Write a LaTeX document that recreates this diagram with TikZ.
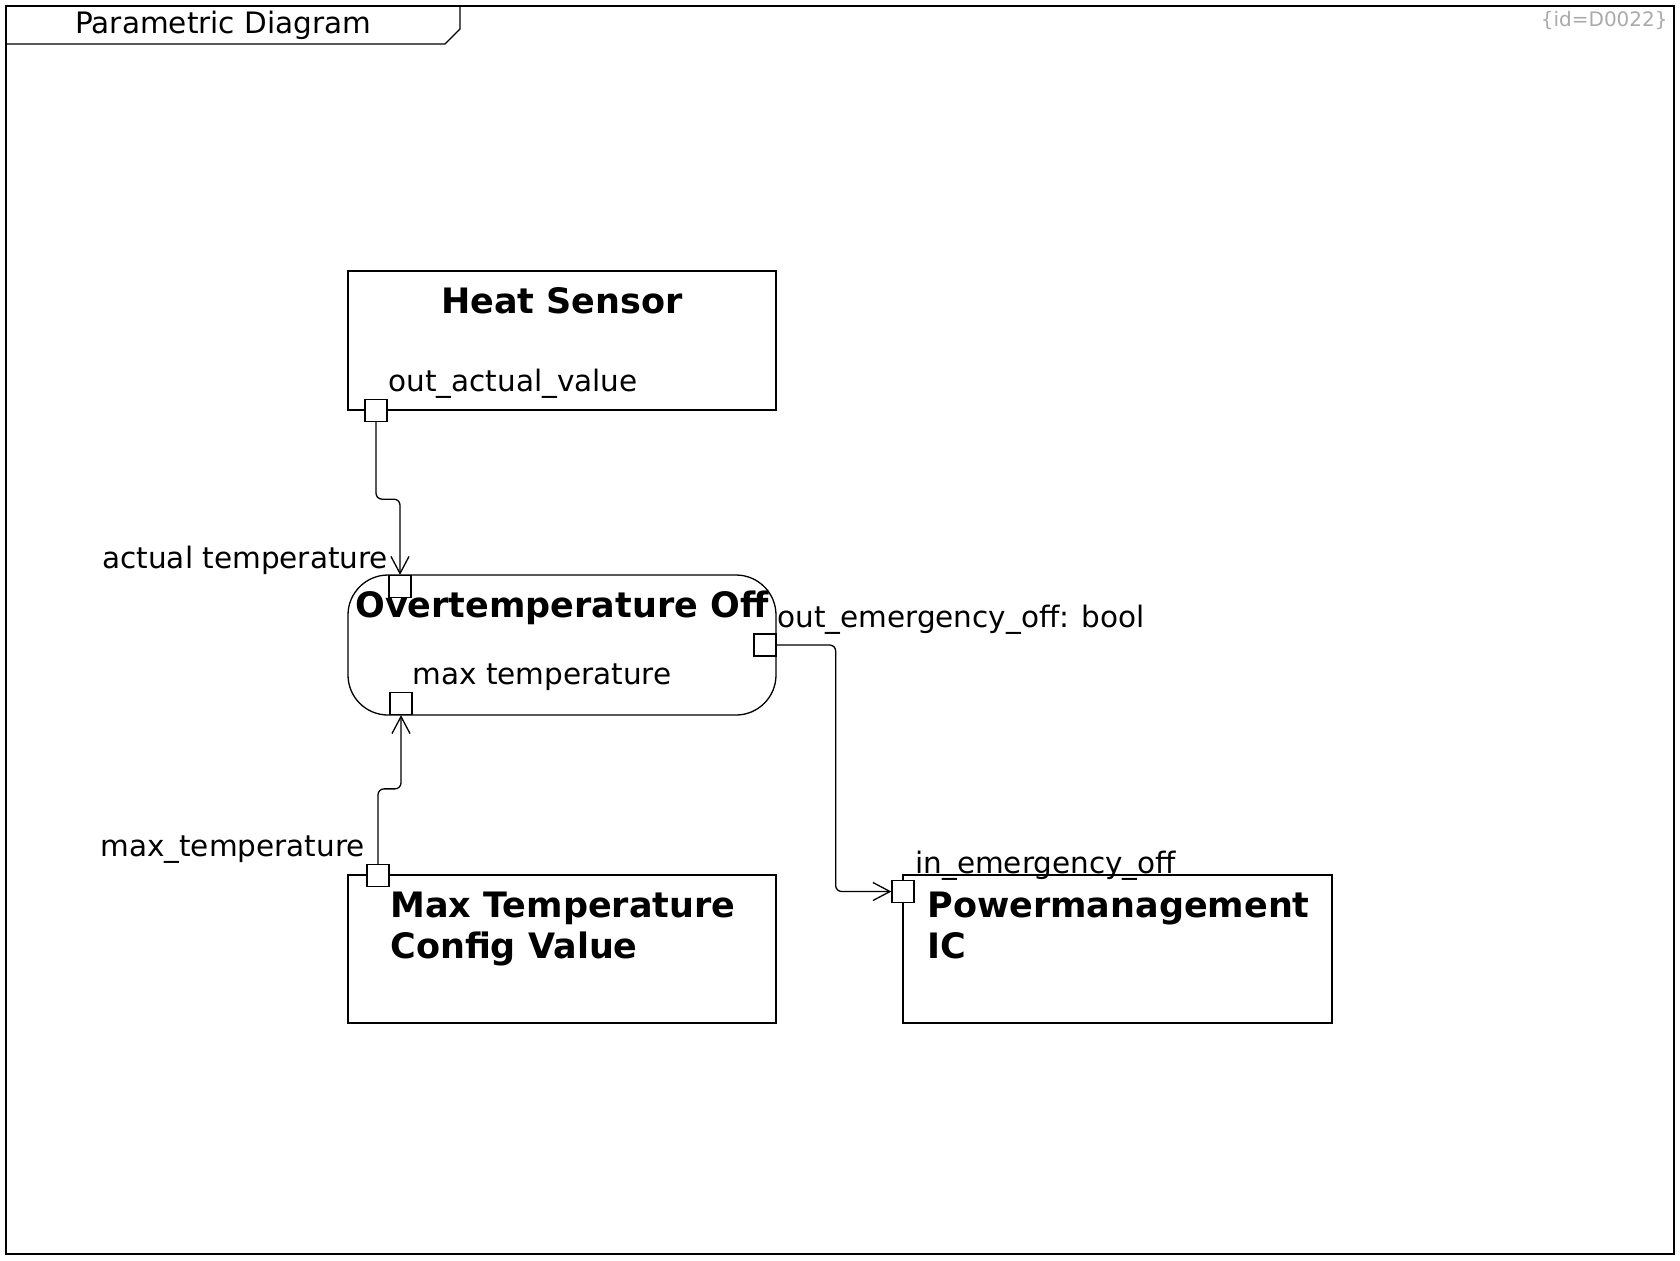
\documentclass[tikz,border=0pt]{standalone}
\usepackage{fontspec}
\setmainfont{DejaVu Sans}
\usetikzlibrary{arrows.meta,calc}
\tikzset{
  lbl/.style={inner sep=0pt,font=\fontsize{14.75pt}{18pt}\selectfont},
  ttl/.style={inner sep=0pt,font=\fontsize{17.5pt}{20.5pt}\selectfont\bfseries},
  blk/.style={draw,line width=0.65pt,inner sep=0pt},
  port/.style={draw,fill=white,line width=0.65pt,inner sep=0pt,minimum width=11pt,minimum height=11pt},
  conn/.style={line width=0.65pt,rounded corners=3pt,-{Straight Barb[length=8.5pt,width=9pt,line width=0.65pt]}},
}
\definecolor{idgrey}{RGB}{170,170,170}
\begin{document}
\begin{tikzpicture}[x=0.5pt,y=-0.5pt]
\useasboundingbox (0,0) rectangle (1680,1260);
% frame
\draw[line width=0.65pt] (6,6) rectangle (1674,1254);
\draw[line width=0.65pt] (6,44) -- (445,44) -- (460,29) -- (460,6);
\node[lbl,anchor=base west] (title) at (75,33) {Parametric Diagram};
\node[inner sep=0pt,anchor=base east,text=idgrey,font=\fontsize{10pt}{12pt}\selectfont] (id) at (1668,26) {\{id=D0022\}};

% blocks
\draw[blk] (348,271) rectangle (776,410);
\node[ttl,anchor=base] (hs) at (562,313) {Heat Sensor};
\node[lbl,anchor=base west] (hsl) at (388,391) {out\_actual\_value};

\draw[blk,rounded corners=20pt] (348,575) rectangle (776,715);
\node[ttl,anchor=base west] (ot) at (355,617) {Overtemperature Off};
\node[lbl,anchor=base west] (mtl) at (412,684) {max temperature};
\node[lbl,anchor=base west] (atl) at (102,568) {actual temperature};
\node[lbl,anchor=base west] (oel) at (777,627) {out\_emergency\_off: bool};

\draw[blk] (348,875) rectangle (776,1023);
\node[ttl,anchor=base west] (mt1) at (390,917) {Max Temperature};
\node[ttl,anchor=base west] (mt2) at (390,958) {Config Value};
\node[lbl,anchor=base west] (mtp) at (100,856) {max\_temperature};

\draw[blk] (903,875) rectangle (1332,1023);
\node[ttl,anchor=base west] (pm1) at (927,917) {Powermanagement};
\node[ttl,anchor=base west] (pm2) at (927,958) {IC};
\node[lbl,anchor=base west] (iel) at (915,873) {in\_emergency\_off};

% ports
\node[port] (hsP) at (376,410.5) {};
\node[port] (otT) at (400,586.5) {};
\node[port] (otB) at (401,703.5) {};
\node[port] (otR) at (765,645) {};
\node[port] (mtP) at (378,875.5) {};
\node[port] (pmP) at (903,891.5) {};

% connectors
\draw[conn] (hsP.south) -- ++(0,77) -| (otT.north);
\draw[conn] (mtP.north) -- ++(0,-75) -| (otB.south);
\draw[conn] (otR.east) -- ++(59,0) |- (pmP.west);
\end{tikzpicture}
\end{document}
